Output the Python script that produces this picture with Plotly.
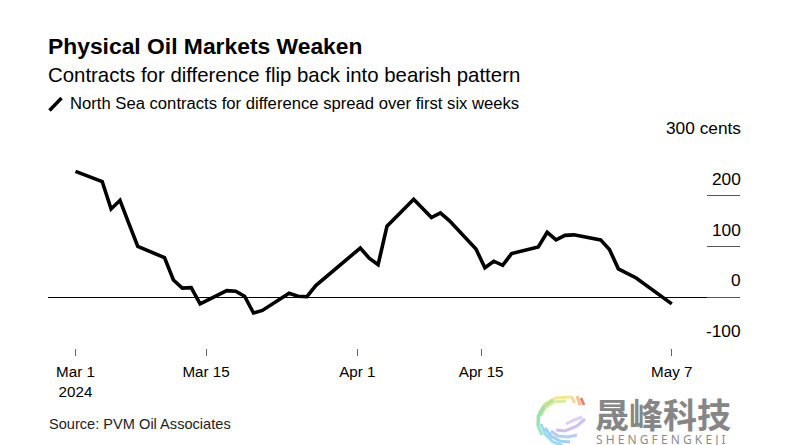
import plotly.graph_objects as go

dates = ["2024-03-01","2024-03-04","2024-03-05","2024-03-06","2024-03-07","2024-03-08","2024-03-11","2024-03-12",
         "2024-03-13","2024-03-14","2024-03-15","2024-03-18","2024-03-19","2024-03-20","2024-03-21","2024-03-22",
         "2024-03-25","2024-03-26","2024-03-27","2024-03-28","2024-04-02","2024-04-03","2024-04-04","2024-04-05",
         "2024-04-08","2024-04-09","2024-04-10","2024-04-11","2024-04-12","2024-04-15","2024-04-16","2024-04-17",
         "2024-04-18","2024-04-19","2024-04-22","2024-04-23","2024-04-24","2024-04-25","2024-04-26","2024-04-29",
         "2024-04-30","2024-05-01","2024-05-03","2024-05-07"]
spread = [248,228,174,191,145,100,78,34,18,19,-13,13,12,2,-31,-26,8,2,1,23,97,77,64,140,193,176,157,166,151,95,
          58,71,63,86,99,128,113,122,123,113,94,56,38,-13]
y_ticks = [300,200,100,0,-100]
y_labels = ["300 cents","200","100","0","-100"]
x_ticks = ["2024-03-01","2024-03-15 16:00","2024-04-01 16:00","2024-04-15 14:00","2024-05-07"]
x_labels = ["Mar 1<br>2024","Mar 15","Apr 1","Apr 15","May 7"]

W, H = 787, 445
L, R, T, B = 48, 740, 145, 348
FONT = "Liberation Sans"
def px(x, y):
    return (x - L) / (R - L), (B - y) / (B - T)

fig = go.Figure(go.Scatter(x=dates, y=spread, mode="lines",
                           line=dict(color="#000000", width=3.6, shape="linear"),
                           hoverinfo="skip", showlegend=False))

def text(s, x, y, size, color="#000000", bold=False, family=FONT, anchor="left"):
    xp, yp = px(x, y)
    fig.add_annotation(text=f"<b>{s}</b>" if bold else s, x=xp, y=yp, xref="paper", yref="paper",
                       xanchor=anchor, yanchor="middle", showarrow=False,
                       font=dict(size=size, color=color, family=family))

text("Physical Oil Markets Weaken", 46, 45.5, 22.85, bold=True)
text("Contracts for difference flip back into bearish pattern", 46, 75, 20.4)
text("North Sea contracts for difference spread over first six weeks", 68, 103, 16.65)
text("Source: PVM Oil Associates", 47, 424, 14.6, color="#222222")

for v, lab in zip(y_ticks, y_labels):
    fig.add_annotation(text=lab, x=1, y=v, xref="paper", yref="y", xanchor="right", yanchor="middle",
                       yshift=17, xshift=2.5, showarrow=False,
                       font=dict(size=17.3, color="#000000", family=FONT))

def stroke(points, color, width, opacity=1.0):
    d = ""
    for i, (x, y) in enumerate(points):
        xp, yp = px(x, y)
        d += ("M" if i == 0 else "L") + f"{xp:.5f},{yp:.5f}"
    fig.add_shape(type="path", path=d, xref="paper", yref="paper", layer="above",
                  line=dict(color=color, width=width), opacity=opacity)

# legend key
stroke([(49.5, 110.5), (61.5, 98)], "#000000", 3.4)

# watermark logo
stroke([(581, 398), (584, 405)], "#f0736a", 3, .9)
stroke([(577, 396), (580, 405)], "#f7b267", 3, .8)
stroke([(571, 396), (575, 403)], "#f8cf7a", 3, .8)
arcs = [
    ([(570, 397), (556, 398), (545, 404), (539, 413)], "#f5e27e"),
    ([(566, 401), (554, 402), (545, 408), (541, 416)], "#cfe88e"),
    ([(553, 400), (544, 406), (538, 416), (538, 425)], "#a7e39a"),
    ([(544, 407), (539, 416), (538, 426), (542, 435)], "#8fe0c0"),
    ([(541, 424), (545, 434), (553, 442), (562, 445)], "#86d8f0"),
    ([(545, 428), (551, 436), (560, 441), (570, 442)], "#8fc8f5"),
    ([(551, 431), (558, 436), (568, 437), (577, 435)], "#a9c4f5"),
    ([(556, 430), (565, 431), (577, 426), (585, 419)], "#c6b6f2"),
    ([(566, 424), (574, 420), (582, 417)], "#d8c8f5"),
]
for pts, c in arcs:
    stroke(pts, c, 3, .85)
text("晟峰科技", 593, 413, 34, color="#868686", bold=True, family="Noto Sans CJK SC")
text("S H E N G F E N G K E J I", 594, 439.5, 12, color="#8c8c8c", family="Noto Sans")

fig.update_layout(
    width=W, height=H, autosize=False,
    margin=dict(l=L, r=W - R, t=T, b=H - B, pad=0),
    paper_bgcolor="#ffffff", plot_bgcolor="#ffffff",
    font=dict(family=FONT, size=15, color="#000000"),
    xaxis=dict(type="date", range=["2024-02-26 21:50", "2024-05-14 16:00"], tickmode="array",
               tickvals=x_ticks, ticktext=x_labels, ticks="outside", ticklen=7, tickwidth=1,
               tickcolor="#666666", showgrid=False, zeroline=False, showline=False,
               ticklabelstandoff=3,
               tickfont=dict(size=15.2, family=FONT, color="#000000"), tickangle=0),
    yaxis=dict(range=[-100, 300], side="right", tickmode="array", tickvals=y_ticks,
               ticks="inside", ticklen=33, tickwidth=1, tickcolor="#555555",
               showticklabels=False, showgrid=False, showline=False,
               zeroline=True, zerolinecolor="#000000", zerolinewidth=1),
)
fig.write_html("out.html", config={"displayModeBar": False},
               post_script="document.body.style.margin='0';document.documentElement.style.overflow='hidden';")
